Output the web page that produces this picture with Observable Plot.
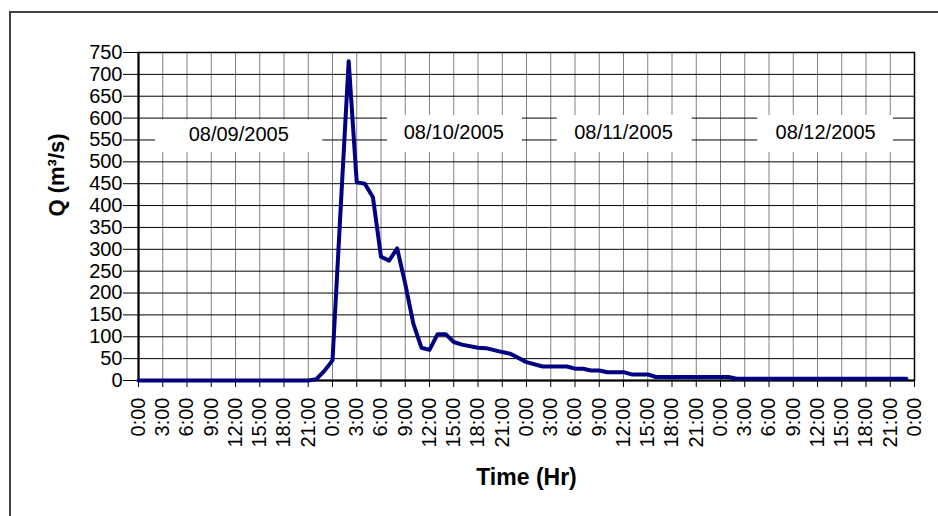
<!DOCTYPE html>
<html>
<head>
<meta charset="utf-8">
<script src="https://cdn.jsdelivr.net/npm/d3@7"></script>
<script src="https://cdn.jsdelivr.net/npm/@observablehq/plot@0.6"></script>
<style>
  html, body { margin: 0; padding: 0; background: #fff; }
  #wrap { position: relative; width: 938px; height: 516px; overflow: hidden; }
  #border { position: absolute; left: 9px; top: 11px; right: -10px; bottom: -10px;
            border-left: 2px solid #404040; border-top: 2px solid #404040; }
  #chart { position: absolute; left: 0; top: 0; }
  svg { background: transparent !important; }
</style>
</head>
<body>
<div id="wrap"><div id="border"></div><div id="chart"></div></div>
<script>
// Time in hours since 08/09/2005 0:00, discharge Q in m3/s (vertices)
const hours = [0, 21, 22, 23, 24, 25, 26, 27, 28, 29, 30, 31, 32, 33, 34, 35, 36, 37, 38, 39, 40, 42, 43, 45, 46, 48, 50, 53, 54, 55, 56, 57, 58, 60, 61, 63, 64, 73, 74, 95];
const flow  = [0, 0, 3, 22, 46, 390, 730, 453, 450, 419, 283, 274, 302, 221, 130, 75, 70, 106, 106, 88, 82, 75, 74, 65, 61, 42, 32, 32, 27, 27, 23, 23, 19, 19, 14, 14, 8, 8, 4, 4];

const tickHours  = [0, 3, 6, 9, 12, 15, 18, 21, 24, 27, 30, 33, 36, 39, 42, 45, 48, 51, 54, 57, 60, 63, 66, 69, 72, 75, 78, 81, 84, 87, 90, 93, 96];
const tickLabels = ["0:00","3:00","6:00","9:00","12:00","15:00","18:00","21:00",
                    "0:00","3:00","6:00","9:00","12:00","15:00","18:00","21:00",
                    "0:00","3:00","6:00","9:00","12:00","15:00","18:00","21:00",
                    "0:00","3:00","6:00","9:00","12:00","15:00","18:00","21:00","0:00"];
const yTicks = [0, 50, 100, 150, 200, 250, 300, 350, 400, 450, 500, 550, 600, 650, 700, 750];

// Date label boxes (in data units)
const dateLabels = ["08/09/2005", "08/10/2005", "08/11/2005", "08/12/2005"];
const boxX1 = [2.1, 30.8, 51.8, 76.6];
const boxX2 = [22.8, 47.5, 68.5, 93.4];
const boxY1 = [521, 521, 521, 521];
const boxY2 = [596, 606, 606, 606];
const labelX = [12.4, 39.0, 60.0, 85.0];
const labelY = [562, 567, 566, 566];

const data = hours.map((h, i) => ({h, q: flow[i]}));
const boxes = dateLabels.map((t, i) => ({t, x1: boxX1[i], x2: boxX2[i], y1: boxY1[i], y2: boxY2[i], lx: labelX[i], ly: labelY[i]}));
const labelOf = new Map(tickHours.map((h, i) => [h, tickLabels[i]]));

const font = "'Liberation Sans', Arial, sans-serif";

const chart = Plot.plot({
  width: 938,
  height: 516,
  marginLeft: 138,
  marginRight: 24,
  marginTop: 52,
  marginBottom: 136,
  style: {fontFamily: font, background: "transparent", color: "#000"},
  x: {domain: [0, 96]},
  y: {domain: [0, 750]},
  marks: [
    Plot.gridX(tickHours, {stroke: "#808080", strokeOpacity: 1, strokeWidth: 1}),
    Plot.gridY(yTicks, {stroke: "#000", strokeOpacity: 1, strokeWidth: 1}),
    Plot.rect(boxes, {x1: "x1", x2: "x2", y1: "y1", y2: "y2", fill: "white"}),
    Plot.text(boxes, {x: "lx", y: "ly", text: "t", fontSize: 20, fill: "#000"}),
    Plot.frame({stroke: "#000", strokeWidth: 1.5}),
    Plot.axisY({ticks: yTicks, tickSize: 15, tickPadding: 1, fontSize: 20, label: null, stroke: "#000"}),
    Plot.axisX({ticks: tickHours, tickFormat: d => labelOf.get(d), tickSize: 7, tickPadding: 10,
                tickRotate: -90, textAnchor: "end", lineAnchor: "middle", fontSize: 20, label: null}),
    Plot.ruleX([0], {stroke: "#000", strokeWidth: 2}),
    Plot.ruleY([0], {stroke: "#000", strokeWidth: 2}),
    Plot.line(data, {x: "h", y: "q", stroke: "#000080", strokeWidth: 4, strokeLinejoin: "round"}),
    Plot.text(["Q (m³/s)"], {frameAnchor: "left", dx: -82, rotate: -90, text: d => d,
                fontSize: 22, fontWeight: "bold", fill: "#000"}),
    Plot.text(["Time (Hr)"], {frameAnchor: "bottom", dy: 104, text: d => d,
                fontSize: 23, fontWeight: "bold", fill: "#000"})
  ]
});
document.getElementById("chart").appendChild(chart);
</script>
</body>
</html>
